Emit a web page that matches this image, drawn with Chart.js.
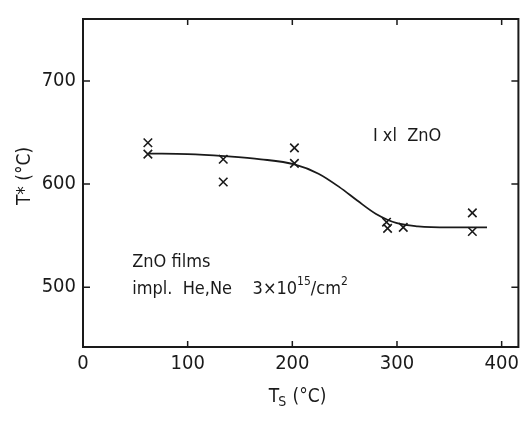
<!DOCTYPE html>
<html>
<head>
<meta charset="utf-8">
<script src="https://cdn.jsdelivr.net/npm/chart.js@4.4.1/dist/chart.umd.min.js"></script>
<style>
  html, body { margin: 0; padding: 0; background: #fff; }
  #wrap { width: 526px; height: 421px; }
</style>
</head>
<body>
<div id="wrap"><canvas id="c" width="526" height="421"></canvas></div>
<script>
// measured points (substrate temperature Ts, T*)
const tsData = [62, 62, 134, 134, 202, 202, 290, 291, 306, 372, 372];
const tStarData = [640, 629, 624, 602, 635, 620, 563, 557, 558, 572, 554];

// fitted curve drawn through the points
const curveTs = [63, 100, 135, 170, 202, 225, 245, 262, 280, 300, 320, 350, 386];
const curveT = [629.5, 629, 627, 624, 619, 610, 597, 584, 571, 562, 559, 558, 558];

const xTicks = [0, 100, 200, 300, 400];
const yTicks = [500, 600, 700];

const FONT = '"DejaVu Sans Condensed", "DejaVu Sans", sans-serif';
const INK = '#1a1a1a';

// frame, inward ticks, titles and notes
const paperPlugin = {
    id: 'paper',
    afterDraw(chart) {
        const { ctx, chartArea: a, scales } = chart;
        const x = scales.x, y = scales.y;
        ctx.save();
        ctx.strokeStyle = INK;
        ctx.lineWidth = 2;
        ctx.strokeRect(a.left, a.top, a.right - a.left, a.bottom - a.top);
        ctx.lineWidth = 1.5;
        ctx.beginPath();
        xTicks.forEach(v => {
            const px = x.getPixelForValue(v);
            ctx.moveTo(px, a.bottom); ctx.lineTo(px, a.bottom - 6);
            ctx.moveTo(px, a.top); ctx.lineTo(px, a.top + 6);
        });
        yTicks.forEach(v => {
            const py = y.getPixelForValue(v);
            ctx.moveTo(a.left, py); ctx.lineTo(a.left + 7, py);
            ctx.moveTo(a.right, py); ctx.lineTo(a.right - 7, py);
        });
        ctx.stroke();

        ctx.fillStyle = INK;
        ctx.textBaseline = 'middle';

        // x title: T with subscript S
        const cx = x.getPixelForValue(205);
        ctx.font = '19px ' + FONT;
        ctx.textAlign = 'left';
        const tw = ctx.measureText('T').width;
        ctx.font = '14px ' + FONT;
        const sw = ctx.measureText('S').width;
        ctx.font = '19px ' + FONT;
        const rest = ' (°C)';
        const rw = ctx.measureText(rest).width;
        let sx = cx - (tw + sw + rw) / 2;
        ctx.fillText('T', sx, 397);
        ctx.font = '14px ' + FONT;
        ctx.fillText('S', sx + tw - 1, 402);
        ctx.font = '19px ' + FONT;
        ctx.fillText(rest, sx + tw + sw, 397);

        // y title
        ctx.save();
        ctx.translate(25, 176);
        ctx.rotate(-Math.PI / 2);
        ctx.textAlign = 'center';
        ctx.fillText('T* (°C)', 0, 0);
        ctx.restore();

        // notes
        ctx.font = '18px ' + FONT;
        ctx.textAlign = 'left';
        ctx.fillText('I xl  ZnO', x.getPixelForValue(277), y.getPixelForValue(646));
        const nx = x.getPixelForValue(47);
        ctx.fillText('ZnO films', nx, y.getPixelForValue(524));
        const ly = y.getPixelForValue(498);
        let t = 'impl.  He,Ne    3×10';
        ctx.fillText(t, nx, ly);
        let px = nx + ctx.measureText(t).width;
        ctx.font = '12px ' + FONT;
        ctx.fillText('15', px, ly - 7);
        px += ctx.measureText('15').width;
        ctx.font = '18px ' + FONT;
        ctx.fillText('/cm', px, ly);
        px += ctx.measureText('/cm').width;
        ctx.font = '12px ' + FONT;
        ctx.fillText('2', px, ly - 7);
        ctx.restore();
    }
};

new Chart(document.getElementById('c'), {
    type: 'scatter',
    data: {
        datasets: [
            {
                label: 'fit',
                data: curveTs.map((v, i) => ({ x: v, y: curveT[i] })),
                showLine: true,
                borderColor: INK,
                borderWidth: 1.8,
                pointRadius: 0,
                cubicInterpolationMode: 'monotone'
            },
            {
                label: 'I xl ZnO',
                data: tsData.map((v, i) => ({ x: v, y: tStarData[i] })),
                pointStyle: 'crossRot',
                pointRadius: 6,
                borderColor: INK,
                borderWidth: 1.6
            }
        ]
    },
    options: {
        responsive: false,
        animation: false,
        layout: { padding: { top: 9, right: 3, left: 0, bottom: 0 } },
        plugins: { legend: { display: false }, tooltip: { enabled: false } },
        scales: {
            x: {
                type: 'linear', min: 0, max: 416,
                afterFit: s => { s.height = 74; },
                grid: { display: false, drawTicks: false },
                border: { display: false },
                ticks: {
                    stepSize: 100, includeBounds: false, padding: 5,
                    color: INK, font: { family: FONT, size: 20 }
                }
            },
            y: {
                type: 'linear', min: 442, max: 760,
                afterFit: s => { s.width = 83; },
                grid: { display: false, drawTicks: false },
                border: { display: false },
                ticks: {
                    stepSize: 100, includeBounds: false, padding: 7,
                    color: INK, font: { family: FONT, size: 20 }
                }
            }
        }
    },
    plugins: [paperPlugin]
});
</script>
</body>
</html>
